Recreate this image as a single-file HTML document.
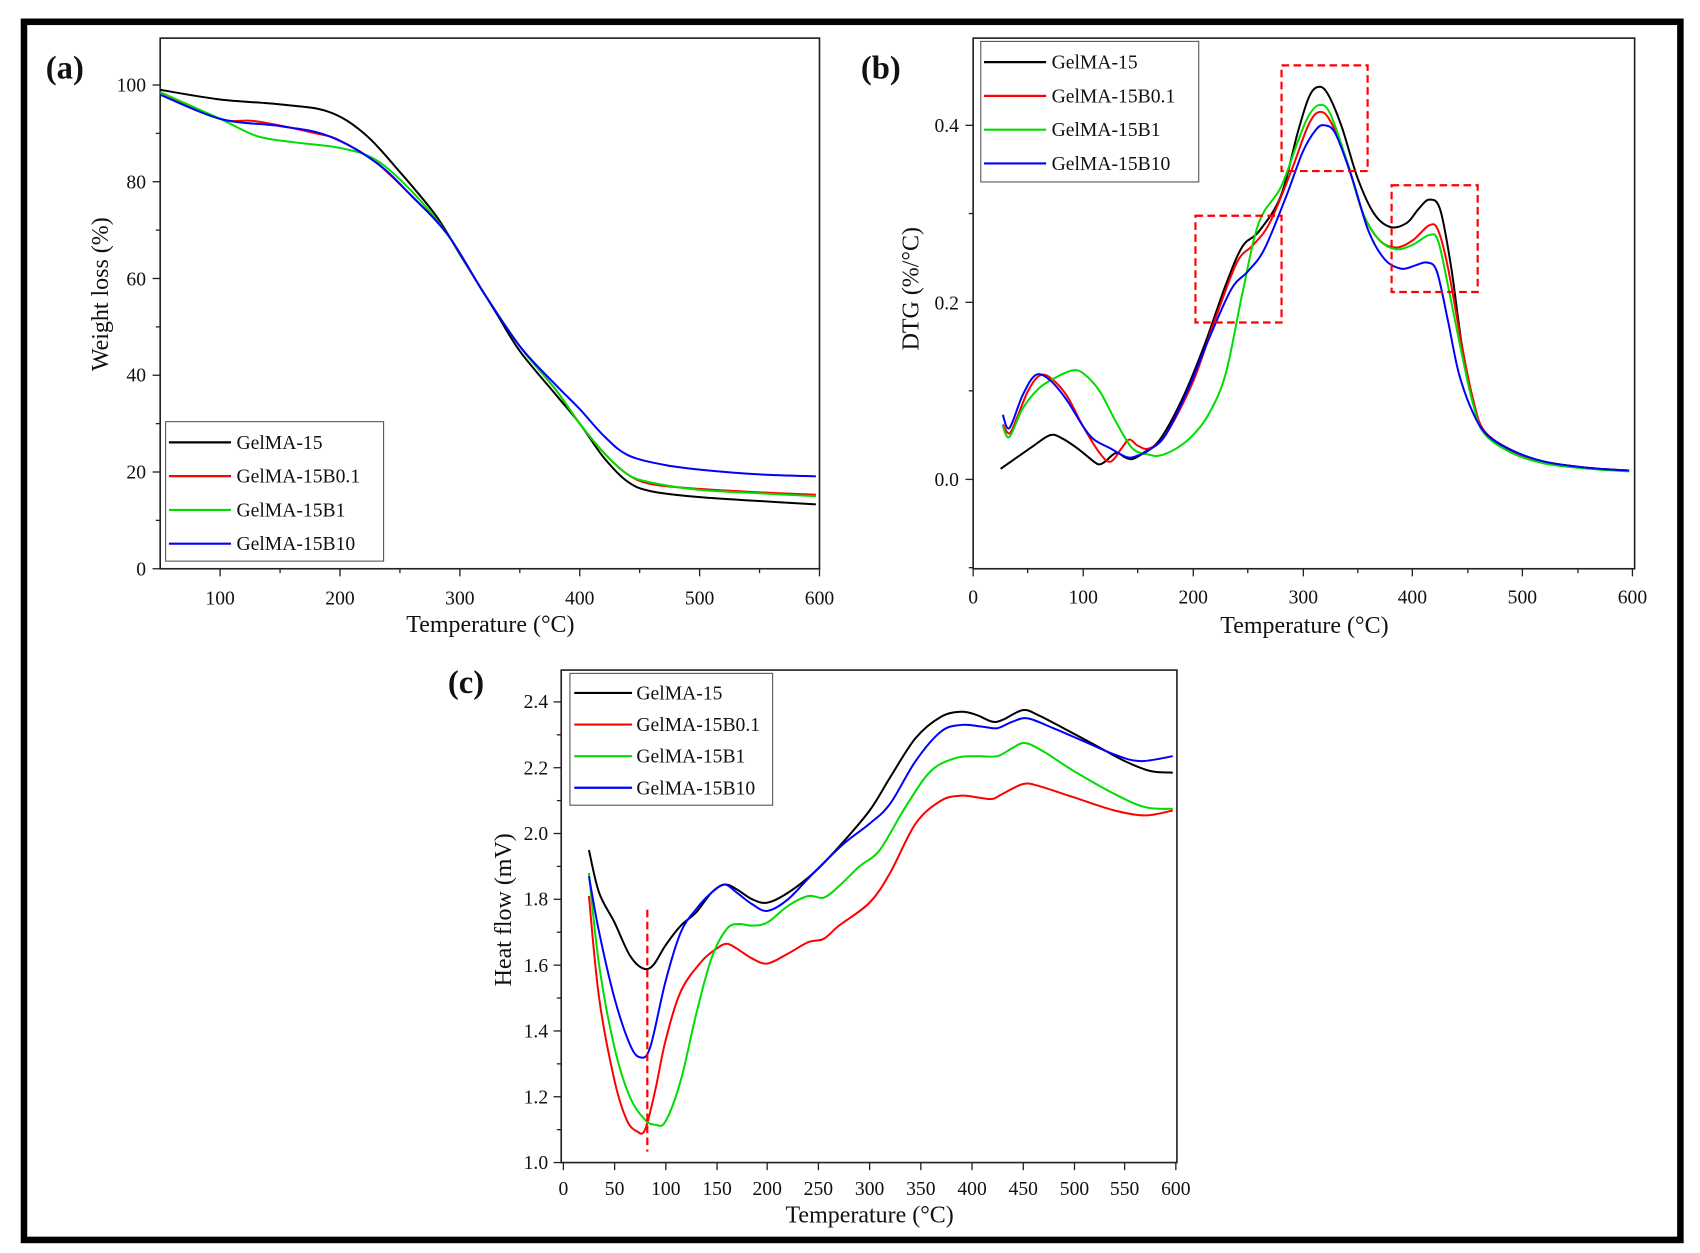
<!DOCTYPE html>
<html><head><meta charset="utf-8"><style>
html,body{margin:0;padding:0;background:#fff;}
svg{display:block;}
text{font-family:"Liberation Serif",serif;fill:#111;}
.tk{font-size:18px;}
.lab{font-size:22px;}
.lg{font-size:18px;}
.pl{font-size:30px;font-weight:bold;}
.c{fill:none;stroke-width:2;vector-effect:non-scaling-stroke;stroke-linejoin:round;}
</style></head><body>
<svg id="S" width="1700" height="1253" viewBox="0 0 1560 1150" preserveAspectRatio="none" xmlns="http://www.w3.org/2000/svg">
<rect x="22" y="20" width="1520" height="1118" fill="none" stroke="#000" stroke-width="6"/>

<!-- Panel A -->
<rect x="147" y="35" width="605" height="487" fill="none" stroke="#222" stroke-width="1.5"/>
<g stroke="#222" stroke-width="1.2">
<line x1="202" y1="522" x2="202" y2="529"/><line x1="312" y1="522" x2="312" y2="529"/><line x1="422" y1="522" x2="422" y2="529"/><line x1="532" y1="522" x2="532" y2="529"/><line x1="642" y1="522" x2="642" y2="529"/><line x1="752" y1="522" x2="752" y2="529"/>
<line x1="257" y1="522" x2="257" y2="526"/><line x1="367" y1="522" x2="367" y2="526"/><line x1="477" y1="522" x2="477" y2="526"/><line x1="587" y1="522" x2="587" y2="526"/><line x1="697" y1="522" x2="697" y2="526"/>
<line x1="140" y1="522" x2="147" y2="522"/><line x1="140" y1="433.2" x2="147" y2="433.2"/><line x1="140" y1="344.4" x2="147" y2="344.4"/><line x1="140" y1="255.6" x2="147" y2="255.6"/><line x1="140" y1="166.8" x2="147" y2="166.8"/><line x1="140" y1="78" x2="147" y2="78"/>
<line x1="143" y1="477.6" x2="147" y2="477.6"/><line x1="143" y1="388.8" x2="147" y2="388.8"/><line x1="143" y1="300" x2="147" y2="300"/><line x1="143" y1="211.2" x2="147" y2="211.2"/><line x1="143" y1="122.4" x2="147" y2="122.4"/>
</g>
<g class="tk" text-anchor="middle"><text x="202" y="555">100</text><text x="312" y="555">200</text><text x="422" y="555">300</text><text x="532" y="555">400</text><text x="642" y="555">500</text><text x="752" y="555">600</text></g>
<g class="tk" text-anchor="end"><text x="134" y="528">0</text><text x="134" y="439">20</text><text x="134" y="350">40</text><text x="134" y="262">60</text><text x="134" y="173">80</text><text x="134" y="84">100</text></g>
<text class="lab" x="450" y="580" text-anchor="middle">Temperature (°C)</text>
<text class="lab" transform="translate(99,270) rotate(-90)" text-anchor="middle">Weight loss (%)</text>
<text class="pl" x="42" y="72">(a)</text>
<g transform="translate(92,522) scale(1.1,-4.44)">
<polyline class="c" stroke="#000" points="50,99 100,97 150,96 190,94.5 220,90 250,82 280,73 300,65 330,53 350,45 380,36 400,30 420,23 440,18 460,16 500,14.8 550,14 597,13.3"/>
<polyline class="c" stroke="#f00" points="50,98.5 100,93 130,92.5 180,90 200,88.5 230,84 260,77 290,69 320,57 350,46 380,37 400,30 420,24 440,19.5 460,17.5 500,16.5 550,15.8 597,15.3"/>
<polyline class="c" stroke="#0d0" points="50,98.5 100,93 130,89.5 160,88.2 200,87 230,84.5 260,78 290,69 320,57 350,46 380,37 400,30 420,24 440,19.5 460,17.8 500,16.3 550,15.6 597,15"/>
<polyline class="c" stroke="#00f" points="50,98 100,93 150,91.5 190,89.5 230,84 260,77 290,69 320,57 350,46 380,38 400,33 420,27.5 440,23.5 470,21.5 500,20.5 550,19.5 597,19.1"/>
</g>
<rect x="152" y="387" width="200" height="128" fill="#fff" stroke="#555" stroke-width="1"/>
<g stroke-width="2"><line x1="155" y1="406" x2="212" y2="406" stroke="#000"/><line x1="155" y1="437" x2="212" y2="437" stroke="#f00"/><line x1="155" y1="468" x2="212" y2="468" stroke="#0d0"/><line x1="155" y1="499" x2="212" y2="499" stroke="#00f"/></g>
<g class="lg"><text x="217" y="412">GelMA-15</text><text x="217" y="443">GelMA-15B0.1</text><text x="217" y="474">GelMA-15B1</text><text x="217" y="505">GelMA-15B10</text></g>

<!-- Panel B -->
<rect x="893" y="35" width="607" height="487" fill="none" stroke="#222" stroke-width="1.5"/>
<g stroke="#222" stroke-width="1.2">
<line x1="893" y1="522" x2="893" y2="529"/><line x1="994" y1="522" x2="994" y2="529"/><line x1="1095" y1="522" x2="1095" y2="529"/><line x1="1196" y1="522" x2="1196" y2="529"/><line x1="1296" y1="522" x2="1296" y2="529"/><line x1="1397" y1="522" x2="1397" y2="529"/><line x1="1498" y1="522" x2="1498" y2="529"/>
<line x1="943" y1="522" x2="943" y2="526"/><line x1="1044" y1="522" x2="1044" y2="526"/><line x1="1145" y1="522" x2="1145" y2="526"/><line x1="1246" y1="522" x2="1246" y2="526"/><line x1="1347" y1="522" x2="1347" y2="526"/><line x1="1448" y1="522" x2="1448" y2="526"/>
<line x1="886" y1="440" x2="893" y2="440"/><line x1="886" y1="277.5" x2="893" y2="277.5"/><line x1="886" y1="115" x2="893" y2="115"/>
<line x1="889" y1="521" x2="893" y2="521"/><line x1="889" y1="358.7" x2="893" y2="358.7"/><line x1="889" y1="196" x2="893" y2="196"/>
</g>
<g class="tk" text-anchor="middle"><text x="893" y="554">0</text><text x="994" y="554">100</text><text x="1095" y="554">200</text><text x="1196" y="554">300</text><text x="1296" y="554">400</text><text x="1397" y="554">500</text><text x="1498" y="554">600</text></g>
<g class="tk" text-anchor="end"><text x="880" y="446">0.0</text><text x="880" y="284">0.2</text><text x="880" y="121">0.4</text></g>
<text class="lab" x="1197" y="581" text-anchor="middle">Temperature (°C)</text>
<text class="lab" transform="translate(843,265) rotate(-90)" text-anchor="middle">DTG (%/°C)</text>
<text class="pl" x="790" y="72">(b)</text>
<g transform="translate(893,440) scale(1.0083,-812.5)">
<polyline class="c" stroke="#000" points="25,0.012 40,0.025 55,0.038 70,0.05 80,0.047 95,0.035 110,0.02 115,0.017 120,0.02 130,0.03 138,0.025 145,0.023 155,0.03 170,0.045 190,0.09 210,0.15 230,0.22 245,0.263 260,0.28 280,0.32 295,0.39 305,0.43 313,0.443 322,0.437 335,0.4 350,0.34 365,0.3 380,0.285 395,0.29 405,0.305 415,0.316 425,0.305 435,0.24 445,0.15 455,0.09 465,0.055 490,0.033 520,0.02 560,0.013 597,0.01"/>
<polyline class="c" stroke="#f00" points="27,0.062 33,0.052 40,0.07 50,0.1 60,0.117 70,0.115 85,0.095 100,0.06 115,0.03 125,0.02 135,0.035 142,0.045 150,0.038 160,0.035 175,0.05 200,0.11 220,0.18 240,0.245 255,0.265 270,0.29 290,0.35 305,0.4 315,0.415 325,0.405 340,0.36 355,0.3 370,0.27 385,0.262 400,0.27 415,0.287 423,0.282 432,0.24 445,0.15 455,0.09 465,0.055 490,0.032 520,0.02 560,0.013 597,0.01"/>
<polyline class="c" stroke="#0d0" points="27,0.06 33,0.048 45,0.08 60,0.103 75,0.115 90,0.123 100,0.12 115,0.1 130,0.065 145,0.035 160,0.028 170,0.027 185,0.035 200,0.05 215,0.075 230,0.12 245,0.21 260,0.29 280,0.33 295,0.38 305,0.41 315,0.423 325,0.413 340,0.36 355,0.3 370,0.27 385,0.26 400,0.265 415,0.276 423,0.27 432,0.22 445,0.14 455,0.085 465,0.052 490,0.03 520,0.018 560,0.012 597,0.009"/>
<polyline class="c" stroke="#00f" points="27,0.073 33,0.058 45,0.095 57,0.118 70,0.112 85,0.09 100,0.06 110,0.045 125,0.035 140,0.025 150,0.027 160,0.033 175,0.05 195,0.1 215,0.16 235,0.215 250,0.235 265,0.26 285,0.32 300,0.37 312,0.395 320,0.4 330,0.39 345,0.34 360,0.28 375,0.248 390,0.238 403,0.242 413,0.245 422,0.235 432,0.18 442,0.12 455,0.075 468,0.05 490,0.033 520,0.02 560,0.013 597,0.01"/>
</g>
<g fill="none" stroke="#f00" stroke-width="2" stroke-dasharray="7,4">
<rect x="1097" y="198" width="79" height="98"/><rect x="1176" y="60" width="79" height="97"/><rect x="1277" y="170" width="79" height="98"/>
</g>
<rect x="900" y="38" width="200" height="129" fill="#fff" stroke="#555" stroke-width="1"/>
<g stroke-width="2"><line x1="903" y1="57" x2="960" y2="57" stroke="#000"/><line x1="903" y1="88" x2="960" y2="88" stroke="#f00"/><line x1="903" y1="119" x2="960" y2="119" stroke="#0d0"/><line x1="903" y1="150" x2="960" y2="150" stroke="#00f"/></g>
<g class="lg"><text x="965" y="63">GelMA-15</text><text x="965" y="94">GelMA-15B0.1</text><text x="965" y="125">GelMA-15B1</text><text x="965" y="156">GelMA-15B10</text></g>

<!-- Panel C -->
<rect x="515" y="615" width="565" height="452" fill="none" stroke="#222" stroke-width="1.5"/>
<g stroke="#222" stroke-width="1.2">
<line x1="517" y1="1067" x2="517" y2="1074"/><line x1="564" y1="1067" x2="564" y2="1074"/><line x1="611" y1="1067" x2="611" y2="1074"/><line x1="658" y1="1067" x2="658" y2="1074"/><line x1="704" y1="1067" x2="704" y2="1074"/><line x1="751" y1="1067" x2="751" y2="1074"/><line x1="798" y1="1067" x2="798" y2="1074"/><line x1="845" y1="1067" x2="845" y2="1074"/><line x1="892" y1="1067" x2="892" y2="1074"/><line x1="939" y1="1067" x2="939" y2="1074"/><line x1="986" y1="1067" x2="986" y2="1074"/><line x1="1032" y1="1067" x2="1032" y2="1074"/><line x1="1079" y1="1067" x2="1079" y2="1074"/>
<line x1="508" y1="1067" x2="515" y2="1067"/><line x1="508" y1="1006.6" x2="515" y2="1006.6"/><line x1="508" y1="946.2" x2="515" y2="946.2"/><line x1="508" y1="885.8" x2="515" y2="885.8"/><line x1="508" y1="825.4" x2="515" y2="825.4"/><line x1="508" y1="765" x2="515" y2="765"/><line x1="508" y1="704.6" x2="515" y2="704.6"/><line x1="508" y1="644.2" x2="515" y2="644.2"/>
<line x1="511" y1="1036.8" x2="515" y2="1036.8"/><line x1="511" y1="976.4" x2="515" y2="976.4"/><line x1="511" y1="916" x2="515" y2="916"/><line x1="511" y1="855.6" x2="515" y2="855.6"/><line x1="511" y1="795.2" x2="515" y2="795.2"/><line x1="511" y1="734.8" x2="515" y2="734.8"/><line x1="511" y1="674.4" x2="515" y2="674.4"/>
</g>
<g class="tk" text-anchor="middle"><text x="517" y="1097">0</text><text x="564" y="1097">50</text><text x="611" y="1097">100</text><text x="658" y="1097">150</text><text x="704" y="1097">200</text><text x="751" y="1097">250</text><text x="798" y="1097">300</text><text x="845" y="1097">350</text><text x="892" y="1097">400</text><text x="939" y="1097">450</text><text x="986" y="1097">500</text><text x="1032" y="1097">550</text><text x="1079" y="1097">600</text></g>
<g class="tk" text-anchor="end"><text x="503" y="1073">1.0</text><text x="503" y="1013">1.2</text><text x="503" y="952">1.4</text><text x="503" y="892">1.6</text><text x="503" y="831">1.8</text><text x="503" y="771">2.0</text><text x="503" y="711">2.2</text><text x="503" y="650">2.4</text></g>
<text class="lab" x="798" y="1122" text-anchor="middle">Temperature (°C)</text>
<text class="lab" transform="translate(469,835) rotate(-90)" text-anchor="middle">Heat flow (mV)</text>
<text class="pl" x="411" y="636">(c)</text>
<g transform="translate(517,1369) scale(0.9367,-302)">
<polyline class="c" stroke="#000" points="25,1.95 35,1.82 50,1.73 65,1.63 78,1.59 88,1.6 100,1.66 115,1.72 130,1.76 145,1.82 158,1.845 170,1.83 185,1.8 200,1.79 220,1.82 245,1.88 270,1.96 300,2.07 320,2.17 345,2.29 370,2.355 390,2.37 405,2.36 420,2.34 430,2.345 450,2.375 465,2.36 490,2.32 520,2.27 550,2.22 575,2.19 597,2.185"/>
<polyline class="c" stroke="#f00" points="25,1.81 35,1.5 50,1.25 62,1.13 72,1.095 80,1.1 90,1.22 100,1.37 115,1.52 135,1.61 150,1.65 160,1.665 170,1.65 185,1.62 200,1.605 220,1.635 240,1.67 255,1.68 270,1.72 300,1.79 320,1.88 345,2.03 370,2.1 390,2.115 405,2.11 420,2.105 430,2.12 450,2.15 465,2.145 500,2.11 540,2.07 570,2.055 597,2.07"/>
<polyline class="c" stroke="#0d0" points="25,1.88 35,1.6 50,1.35 65,1.2 80,1.13 90,1.115 100,1.125 115,1.25 130,1.45 145,1.62 160,1.71 172,1.725 185,1.72 200,1.73 220,1.78 240,1.81 255,1.805 270,1.84 290,1.9 310,1.95 335,2.08 360,2.19 385,2.23 405,2.235 425,2.235 440,2.26 452,2.275 470,2.25 500,2.19 540,2.12 570,2.08 597,2.075"/>
<polyline class="c" stroke="#00f" points="25,1.87 35,1.7 50,1.5 65,1.36 75,1.32 85,1.35 100,1.55 115,1.7 130,1.77 145,1.82 158,1.845 170,1.82 185,1.785 200,1.765 220,1.8 245,1.88 275,1.97 300,2.03 320,2.09 345,2.22 370,2.31 390,2.33 410,2.325 425,2.32 440,2.34 455,2.35 480,2.32 510,2.28 540,2.24 565,2.22 597,2.235"/>
</g>
<line x1="594" y1="835" x2="594" y2="1057" stroke="#f00" stroke-width="2" stroke-dasharray="7,4"/>
<rect x="523" y="618" width="186" height="121" fill="#fff" stroke="#555" stroke-width="1"/>
<g stroke-width="2"><line x1="527" y1="636" x2="580" y2="636" stroke="#000"/><line x1="527" y1="665" x2="580" y2="665" stroke="#f00"/><line x1="527" y1="694" x2="580" y2="694" stroke="#0d0"/><line x1="527" y1="723" x2="580" y2="723" stroke="#00f"/></g>
<g class="lg"><text x="584" y="642">GelMA-15</text><text x="584" y="671">GelMA-15B0.1</text><text x="584" y="700">GelMA-15B1</text><text x="584" y="729">GelMA-15B10</text></g>
</svg>
<script>
(function(){
var NS="http://www.w3.org/2000/svg";
var pls=document.querySelectorAll("polyline.c");
for(var k=0;k<pls.length;k++){
 var pl=pls[k];
 var pts=pl.getAttribute("points").trim().split(/\s+/).map(function(s){var a=s.split(",");return [parseFloat(a[0]),parseFloat(a[1])];});
 // scale-aware catmull-rom: compute in data units (affine transform preserves it)
 var d="M"+pts[0][0]+","+pts[0][1];
 for(var i=0;i<pts.length-1;i++){
  var p0=pts[i>0?i-1:i],p1=pts[i],p2=pts[i+1],p3=pts[i+2<pts.length?i+2:i+1];
  var c1x=p1[0]+(p2[0]-p0[0])/6,c1y=p1[1]+(p2[1]-p0[1])/6;
  var c2x=p2[0]-(p3[0]-p1[0])/6,c2y=p2[1]-(p3[1]-p1[1])/6;
  d+=" C"+c1x+","+c1y+" "+c2x+","+c2y+" "+p2[0]+","+p2[1];
 }
 var p=document.createElementNS(NS,"path");
 p.setAttribute("d",d);
 p.setAttribute("class","c");
 p.setAttribute("stroke",pl.getAttribute("stroke"));
 pl.parentNode.replaceChild(p,pl);
}
})();
</script>
</body></html>
